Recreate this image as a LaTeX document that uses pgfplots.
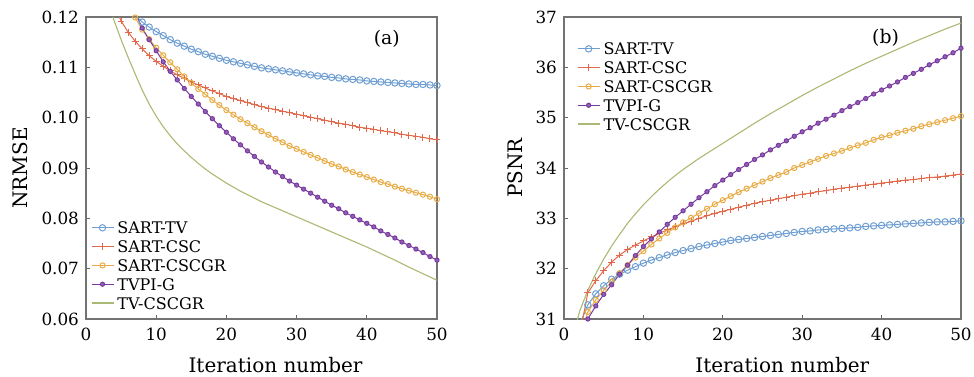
\documentclass[border=0pt]{standalone}
\usepackage{fontspec}
\setmainfont{DejaVu Serif}
\usepackage{pgfplots}
\pgfplotsset{compat=1.18}
\definecolor{cB}{RGB}{110,158,210}
\definecolor{cR}{RGB}{225,105,75}
\definecolor{cO}{RGB}{232,172,70}
\definecolor{cP}{RGB}{120,58,160}
\definecolor{cG}{RGB}{170,185,115}
\begin{document}
\begin{tikzpicture}
\path[use as bounding box] (0,0) rectangle (487pt,188pt);
\pgfplotsset{
  every axis/.append style={
    scale only axis, clip=true,
    /pgf/number format/assume math mode=true,
    axis line style={draw=black!55, line width=0.6pt},
    tick align=inside, xtick pos=bottom, ytick pos=left,
    major tick length=2pt,
    every tick/.style={black!60, line width=0.4pt},
    tick label style={font=\fontsize{8.4}{9}\selectfont},
    label style={font=\fontsize{10.3}{11}\selectfont},
    xmin=0, xmax=50, xtick={0,10,20,30,40,50},
    legend cell align=left,
    legend style={draw=none, fill=none, inner sep=0pt, font=\fontsize{8}{8}\selectfont,
      nodes={text height=6pt, text depth=0pt, inner sep=1.7pt}},
    legend image code/.code={\draw[mark repeat=2,mark phase=2,#1] plot coordinates {(0pt,0pt) (5.5pt,0pt) (11pt,0pt)};},
    xticklabel style={yshift=-1pt},
  },
  sB/.style={cB, line width=0.5pt, mark=o, mark size=1.6pt, mark options={line width=0.5pt}},
  sR/.style={cR, line width=0.5pt, mark=+, mark size=1.7pt, mark options={line width=0.5pt}},
  sO/.style={cO, line width=0.5pt, mark=o, mark size=1.3pt, mark options={line width=0.5pt, fill=cO!35}},
  sP/.style={cP, line width=0.5pt, mark=*, mark size=1.05pt, mark options={fill=cP!80!white}},
  sG/.style={cG, line width=0.55pt, no marks, line join=round},
}
% ---------------- (a) NRMSE ----------------
\begin{axis}[
  at={(43pt,28.5pt)}, anchor=south west,
  width=175.5pt, height=151pt,
  ymin=0.06, ymax=0.12, ytick={0.06,0.07,0.08,0.09,0.10,0.11,0.12},
  yticklabel style={/pgf/number format/.cd, fixed, fixed zerofill, precision=2},
  xlabel={Iteration number}, ylabel={NRMSE},
  every axis x label/.style={at={(axis description cs:0.54,-0.152)}, anchor=center},
  every axis y label/.style={at={(axis description cs:-0.188,0.5)}, anchor=center, rotate=90},
  legend style={at={(axis description cs:0.013,0.0205)}, anchor=south west},
]
\addplot[sB] coordinates {(7,0.1203)(8,0.1190)(9,0.1180)(10,0.1171)(11,0.1163)(12,0.1155)(13,0.1148)(14,0.1142)(15,0.1136)(16,0.1131)(17,0.1126)(18,0.1122)(19,0.1118)(20,0.1114)(21,0.1111)(22,0.1108)(23,0.1105)(24,0.1102)(25,0.1099)(26,0.1097)(27,0.1095)(28,0.1093)(29,0.1091)(30,0.1089)(31,0.1087)(32,0.1085)(33,0.1083)(34,0.1082)(35,0.1080)(36,0.1079)(37,0.1077)(38,0.1076)(39,0.1075)(40,0.1073)(41,0.1072)(42,0.1071)(43,0.1070)(44,0.1069)(45,0.1068)(46,0.1067)(47,0.1066)(48,0.1066)(49,0.1065)(50,0.1064)};
\addlegendentry{SART-TV}
\addplot[sR] coordinates {(4,0.1225)(5,0.1192)(6,0.1170)(7,0.1152)(8,0.1137)(9,0.1123)(10,0.1112)(11,0.1102)(12,0.1093)(13,0.1085)(14,0.1078)(15,0.1071)(16,0.1065)(17,0.1059)(18,0.1053)(19,0.1048)(20,0.1042)(21,0.1038)(22,0.1034)(23,0.1030)(24,0.1026)(25,0.1022)(26,0.1019)(27,0.1016)(28,0.1013)(29,0.1010)(30,0.1007)(31,0.1004)(32,0.1001)(33,0.0998)(34,0.0995)(35,0.0992)(36,0.0989)(37,0.0987)(38,0.0984)(39,0.0981)(40,0.0979)(41,0.0977)(42,0.0974)(43,0.0972)(44,0.0970)(45,0.0967)(46,0.0965)(47,0.0963)(48,0.0961)(49,0.0958)(50,0.0956)};
\addlegendentry{SART-CSC}
\addplot[sO] coordinates {(6,0.1230)(7,0.1199)(8,0.1175)(9,0.1156)(10,0.1139)(11,0.1124)(12,0.1110)(13,0.1096)(14,0.1082)(15,0.1069)(16,0.1057)(17,0.1046)(18,0.1035)(19,0.1025)(20,0.1015)(21,0.1006)(22,0.0997)(23,0.0989)(24,0.0981)(25,0.0973)(26,0.0966)(27,0.0958)(28,0.0951)(29,0.0944)(30,0.0938)(31,0.0932)(32,0.0926)(33,0.0920)(34,0.0914)(35,0.0908)(36,0.0903)(37,0.0897)(38,0.0892)(39,0.0887)(40,0.0882)(41,0.0877)(42,0.0872)(43,0.0868)(44,0.0863)(45,0.0859)(46,0.0855)(47,0.0851)(48,0.0847)(49,0.0843)(50,0.0838)};
\addlegendentry{SART-CSCGR}
\addplot[sP] coordinates {(7,0.1210)(8,0.1178)(9,0.1155)(10,0.1133)(11,0.1111)(12,0.1092)(13,0.1075)(14,0.1058)(15,0.1042)(16,0.1027)(17,0.1012)(18,0.0998)(19,0.0984)(20,0.0971)(21,0.0958)(22,0.0946)(23,0.0934)(24,0.0923)(25,0.0912)(26,0.0902)(27,0.0892)(28,0.0883)(29,0.0874)(30,0.0866)(31,0.0858)(32,0.0850)(33,0.0842)(34,0.0834)(35,0.0826)(36,0.0819)(37,0.0811)(38,0.0804)(39,0.0797)(40,0.0790)(41,0.0783)(42,0.0775)(43,0.0768)(44,0.0761)(45,0.0753)(46,0.0746)(47,0.0739)(48,0.0732)(49,0.0724)(50,0.0717)};
\addlegendentry{TVPI-G}
\addplot[sG] coordinates {(3,0.1235)(4,0.1193)(5,0.1155)(6,0.1120)(7,0.1087)(8,0.1055)(9,0.1027)(10,0.1003)(11,0.0982)(12,0.0964)(13,0.0948)(14,0.0934)(15,0.0921)(16,0.0909)(17,0.0898)(18,0.0888)(19,0.0879)(20,0.0870)(21,0.0862)(22,0.0854)(23,0.0847)(24,0.0840)(25,0.0833)(26,0.0827)(27,0.0821)(28,0.0815)(29,0.0809)(30,0.0803)(32,0.0791)(34,0.0779)(36,0.0767)(38,0.0755)(40,0.0743)(42,0.0730)(44,0.0717)(46,0.0703)(48,0.0690)(50,0.0677)};
\addlegendentry{TV-CSCGR}
\node[font=\fontsize{9.4}{10}\selectfont] at (axis description cs:0.857,0.927) {(a)};
\end{axis}
% ---------------- (b) PSNR ----------------
\begin{axis}[
  at={(282pt,28.5pt)}, anchor=south west,
  width=198.5pt, height=151pt,
  ymin=31, ymax=37, ytick={31,32,33,34,35,36,37},
  xlabel={Iteration number}, ylabel={PSNR},
  every axis x label/.style={at={(axis description cs:0.55,-0.152)}, anchor=center},
  every axis y label/.style={at={(axis description cs:-0.123,0.5)}, anchor=center, rotate=90},
  legend style={at={(axis description cs:0.032,0.927)}, anchor=north west},
]
\addplot[sB] coordinates {(2,30.9)(3,31.28)(4,31.50)(5,31.66)(6,31.79)(7,31.89)(8,31.97)(9,32.04)(10,32.11)(11,32.17)(12,32.22)(13,32.27)(14,32.32)(15,32.36)(16,32.40)(17,32.44)(18,32.47)(19,32.50)(20,32.53)(21,32.56)(22,32.58)(23,32.60)(24,32.62)(25,32.64)(26,32.66)(27,32.68)(28,32.70)(29,32.72)(30,32.74)(31,32.75)(32,32.77)(33,32.78)(34,32.79)(35,32.80)(36,32.81)(37,32.82)(38,32.84)(39,32.85)(40,32.86)(41,32.87)(42,32.88)(43,32.89)(44,32.90)(45,32.91)(46,32.92)(47,32.93)(48,32.93)(49,32.94)(50,32.95)};
\addlegendentry{SART-TV}
\addplot[sR] coordinates {(2,30.7)(3,31.52)(4,31.76)(5,31.96)(6,32.13)(7,32.27)(8,32.38)(9,32.47)(10,32.55)(11,32.63)(12,32.70)(13,32.77)(14,32.83)(15,32.89)(16,32.94)(17,33.00)(18,33.05)(19,33.10)(20,33.14)(21,33.18)(22,33.22)(23,33.26)(24,33.30)(25,33.33)(26,33.36)(27,33.39)(28,33.42)(29,33.45)(30,33.48)(31,33.50)(32,33.53)(33,33.55)(34,33.58)(35,33.60)(36,33.62)(37,33.64)(38,33.66)(39,33.68)(40,33.70)(41,33.72)(42,33.74)(43,33.76)(44,33.77)(45,33.79)(46,33.81)(47,33.82)(48,33.84)(49,33.86)(50,33.88)};
\addlegendentry{SART-CSC}
\addplot[sO] coordinates {(2,30.6)(3,31.14)(4,31.38)(5,31.57)(6,31.74)(7,31.91)(8,32.07)(9,32.22)(10,32.35)(11,32.48)(12,32.60)(13,32.71)(14,32.82)(15,32.92)(16,33.01)(17,33.10)(18,33.19)(19,33.28)(20,33.36)(21,33.44)(22,33.52)(23,33.59)(24,33.66)(25,33.73)(26,33.80)(27,33.86)(28,33.92)(29,34.00)(30,34.06)(31,34.12)(32,34.18)(33,34.24)(34,34.29)(35,34.34)(36,34.40)(37,34.45)(38,34.50)(39,34.56)(40,34.61)(41,34.65)(42,34.70)(43,34.74)(44,34.78)(45,34.83)(46,34.87)(47,34.91)(48,34.95)(49,34.99)(50,35.03)};
\addlegendentry{SART-CSCGR}
\addplot[sP] coordinates {(2,30.5)(3,31.0)(4,31.26)(5,31.49)(6,31.68)(7,31.89)(8,32.07)(9,32.26)(10,32.44)(11,32.59)(12,32.73)(13,32.88)(14,33.02)(15,33.15)(16,33.28)(17,33.41)(18,33.53)(19,33.65)(20,33.76)(21,33.87)(22,33.97)(23,34.07)(24,34.17)(25,34.26)(26,34.36)(27,34.45)(28,34.54)(29,34.63)(30,34.72)(31,34.80)(32,34.89)(33,34.97)(34,35.05)(35,35.14)(36,35.22)(37,35.30)(38,35.38)(39,35.47)(40,35.55)(41,35.63)(42,35.71)(43,35.80)(44,35.88)(45,35.96)(46,36.05)(47,36.13)(48,36.21)(49,36.29)(50,36.38)};
\addlegendentry{TVPI-G}
\addplot[sG] coordinates {(1,30.6)(2,31.17)(3,31.57)(4,31.90)(5,32.19)(6,32.45)(7,32.68)(8,32.90)(9,33.09)(10,33.27)(11,33.43)(12,33.58)(13,33.72)(14,33.85)(15,33.97)(16,34.08)(17,34.19)(18,34.29)(19,34.39)(20,34.49)(22,34.69)(24,34.89)(26,35.08)(28,35.26)(30,35.44)(32,35.61)(34,35.77)(36,35.93)(38,36.08)(40,36.22)(42,36.36)(44,36.50)(46,36.63)(48,36.76)(50,36.88)};
\addlegendentry{TV-CSCGR}
\node[font=\fontsize{9.4}{10}\selectfont] at (axis description cs:0.81,0.93) {(b)};
\end{axis}
\end{tikzpicture}
\end{document}
